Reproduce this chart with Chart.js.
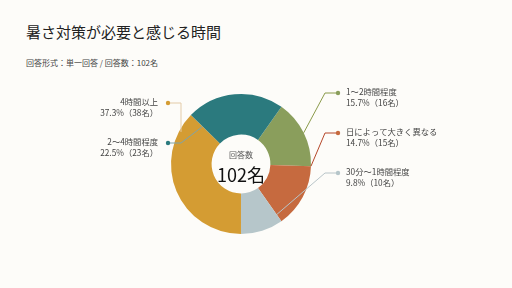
<!DOCTYPE html>
<html>
<head>
<meta charset="utf-8">
<script src="https://cdn.jsdelivr.net/npm/chart.js@4/dist/chart.umd.min.js"></script>
<style>
  html, body { margin: 0; padding: 0; background: #fdfcf9; }
  body { width: 512px; height: 288px; position: relative; overflow: hidden;
         font-family: "Noto Sans CJK JP", "Noto Sans", sans-serif; }
  #title { position: absolute; left: 26px; top: 21px; font-size: 15px; color: #222; white-space: nowrap; }
  #sub { position: absolute; left: 26px; top: 57px; font-size: 8px; color: #444; white-space: nowrap; }
  #wrap { position: absolute; left: 0; top: 0; width: 512px; height: 288px; }
</style>
</head>
<body>
<div id="title">暑さ対策が必要と感じる時間</div>
<div id="sub">回答形式：単一回答 / 回答数：102名</div>
<div id="wrap"><canvas id="c"></canvas></div>
<script>
// データ
const labels = ['1～2時間程度', '日によって大きく異なる', '30分～1時間程度', '4時間以上', '2～4時間程度'];
const percents = [15.7, 14.7, 9.8, 37.3, 22.5];
const counts = [16, 15, 10, 38, 23];
const total = 102;

const colors = ['#8a9e5c', '#c66a3f', '#b6c6ca', '#d49c33', '#2b7a7e'];
const lineColors = ['#8a9a4a', '#b5472a', '#b8c4c8', '#e3cba8', '#7fa4a8'];

// 吹き出しの配置 (side, 文字のx, 1行目のy, 扇形上のアンカー位置)
const callouts = [
  { side: 'r', x: 346, y: 93,  frac: 0.5,  r: 1.0 },
  { side: 'r', x: 346, y: 133, frac: 0.0,  r: 1.0 },
  { side: 'r', x: 346, y: 173, frac: 0.0,  r: 0.8 },
  { side: 'l', x: 158, y: 103, frac: 0.88, r: 0.95, vertical: true },
  { side: 'l', x: 158, y: 143, frac: 0.0,  r: 0.6 }
];

const FONT = '"Noto Sans CJK JP", "Noto Sans", sans-serif';

const centerText = {
  id: 'centerText',
  afterDraw(chart) {
    const arc = chart.getDatasetMeta(0).data[0];
    const ctx = chart.ctx;
    ctx.save();
    ctx.textAlign = 'center';
    ctx.textBaseline = 'middle';
    ctx.fillStyle = '#555';
    ctx.font = '8px ' + FONT;
    ctx.fillText('回答数', arc.x, arc.y - 9);
    ctx.fillStyle = '#111';
    ctx.font = '18px ' + FONT;
    ctx.fillText(total + '名', arc.x, arc.y + 11);
    ctx.restore();
  }
};

const calloutPlugin = {
  id: 'callouts',
  afterDraw(chart) {
    const ctx = chart.ctx;
    const meta = chart.getDatasetMeta(0);
    meta.data.forEach((arc, i) => {
      const c = callouts[i];
      const p = arc.getProps(['x', 'y', 'startAngle', 'endAngle', 'innerRadius', 'outerRadius'], true);
      const ang = p.startAngle + (p.endAngle - p.startAngle) * c.frac;
      const rad = p.innerRadius + (p.outerRadius - p.innerRadius) * c.r;
      const ax = p.x + Math.cos(ang) * rad;
      const ay = p.y + Math.sin(ang) * rad;
      const dotX = c.side === 'r' ? c.x - 8 : c.x + 10;
      const elbowX = c.side === 'r' ? dotX - 13 : dotX + 13;

      ctx.save();
      ctx.strokeStyle = lineColors[i];
      ctx.lineWidth = 1;
      ctx.beginPath();
      ctx.moveTo(dotX, c.y);
      ctx.lineTo(elbowX, c.y);
      if (c.vertical) ctx.lineTo(elbowX, ay);
      else ctx.lineTo(ax, ay);
      ctx.stroke();

      ctx.fillStyle = colors[i];
      ctx.beginPath();
      ctx.arc(dotX, c.y, 2.2, 0, Math.PI * 2);
      ctx.fill();

      ctx.fillStyle = '#444';
      ctx.font = '8.3px ' + FONT;
      ctx.textBaseline = 'middle';
      ctx.textAlign = c.side === 'r' ? 'left' : 'right';
      ctx.fillText(labels[i], c.x, c.y - 1);
      ctx.fillText(percents[i].toFixed(1) + '%（' + counts[i] + '名）', c.x, c.y + 10);
      ctx.restore();
    });
  }
};

new Chart(document.getElementById('c'), {
  type: 'doughnut',
  data: {
    labels: labels,
    datasets: [{
      data: percents,
      backgroundColor: colors,
      borderWidth: 0
    }]
  },
  options: {
    responsive: true,
    maintainAspectRatio: false,
    animation: false,
    cutout: '42%',
    rotation: 35.3,
    layout: { padding: { left: 171, right: 201, top: 94, bottom: 54 } },
    plugins: {
      legend: { display: false },
      tooltip: { enabled: false }
    }
  },
  plugins: [centerText, calloutPlugin]
});
</script>
</body>
</html>
